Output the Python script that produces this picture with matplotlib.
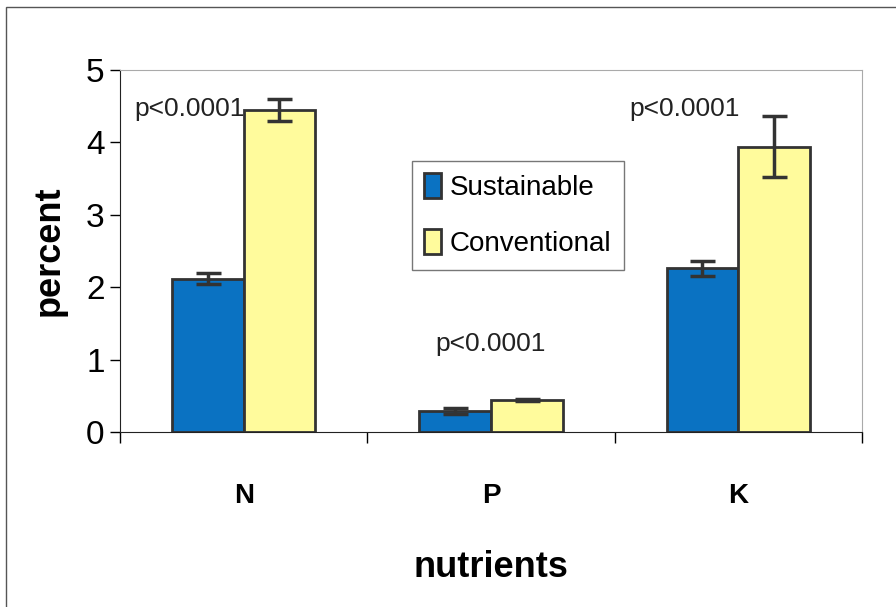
import matplotlib
matplotlib.use("Agg")
import matplotlib.pyplot as plt
from matplotlib.patches import Rectangle
import numpy as np

nutrients = ["N", "P", "K"]
sustainable = [2.12, 0.29, 2.26]
sustainable_err = [0.07, 0.04, 0.10]
conventional = [4.45, 0.44, 3.94]
conventional_err = [0.15, 0.01, 0.42]
p_labels = ["p<0.0001", "p<0.0001", "p<0.0001"]
p_y = [4.46, 1.22, 4.46]

plt.rcParams['font.family'] = ['Liberation Sans', 'DejaVu Sans']

fig = plt.figure(figsize=(8.96, 6.07), dpi=100)
ax = fig.add_axes([0.1339, 0.2883, 0.8281, 0.5964])

x = np.arange(len(nutrients))
w = 0.29
edge = '#333333'
ax.bar(x - w/2, sustainable, w, color='#0a72c2', edgecolor=edge, linewidth=2,
       yerr=sustainable_err, capsize=9, error_kw=dict(ecolor=edge, elinewidth=2.5, capthick=2.5),
       label='Sustainable')
ax.bar(x + w/2, conventional, w, color='#fffb9c', edgecolor=edge, linewidth=2,
       yerr=conventional_err, capsize=9, error_kw=dict(ecolor=edge, elinewidth=2.5, capthick=2.5),
       label='Conventional')

for i, (lab, yy) in enumerate(zip(p_labels, p_y)):
    xx = [i - 0.44, i, i - 0.44][i]
    ax.text(xx, yy, lab, fontsize=19, ha='left' if i != 1 else 'center', va='center', color='#222222')

ax.set_xlim(-0.5, 2.5)
ax.set_ylim(0, 5)
ax.set_yticks([0, 1, 2, 3, 4, 5])
ax.tick_params(axis='y', labelsize=24, length=7, width=1, direction='out', pad=4)
ax.set_xticks(x)
ax.set_xticklabels(nutrients, fontsize=20, fontweight='bold')
ax.tick_params(axis='x', length=0, pad=37)
ax.set_xticks([-0.5, 0.5, 1.5, 2.5], minor=True)
ax.tick_params(axis='x', which='minor', length=8, width=1, direction='out')

ax.set_ylabel('percent', fontsize=26, fontweight='bold', labelpad=14)
ax.set_xlabel('nutrients', fontsize=26, fontweight='bold', labelpad=29)

ax.spines['left'].set_color('#222222')
ax.spines['bottom'].set_color('#222222')
ax.spines['top'].set_color('#aaaaaa')
ax.spines['right'].set_color('#aaaaaa')

leg = ax.legend(loc='upper left', bbox_to_anchor=(0.3935, 0.7486), borderaxespad=0,
                fontsize=20, fancybox=False, frameon=True, handlelength=0.6, handleheight=1.0,
                handletextpad=0.3, labelspacing=1.0, borderpad=0.45)
leg.get_frame().set_edgecolor('#555555')
leg.get_frame().set_linewidth(1)

fig.patches.append(Rectangle((0.007, -0.01), 0.995, 0.999, transform=fig.transFigure,
                             fill=False, edgecolor='#555555', linewidth=1))

fig.savefig('out.png', dpi=100)
